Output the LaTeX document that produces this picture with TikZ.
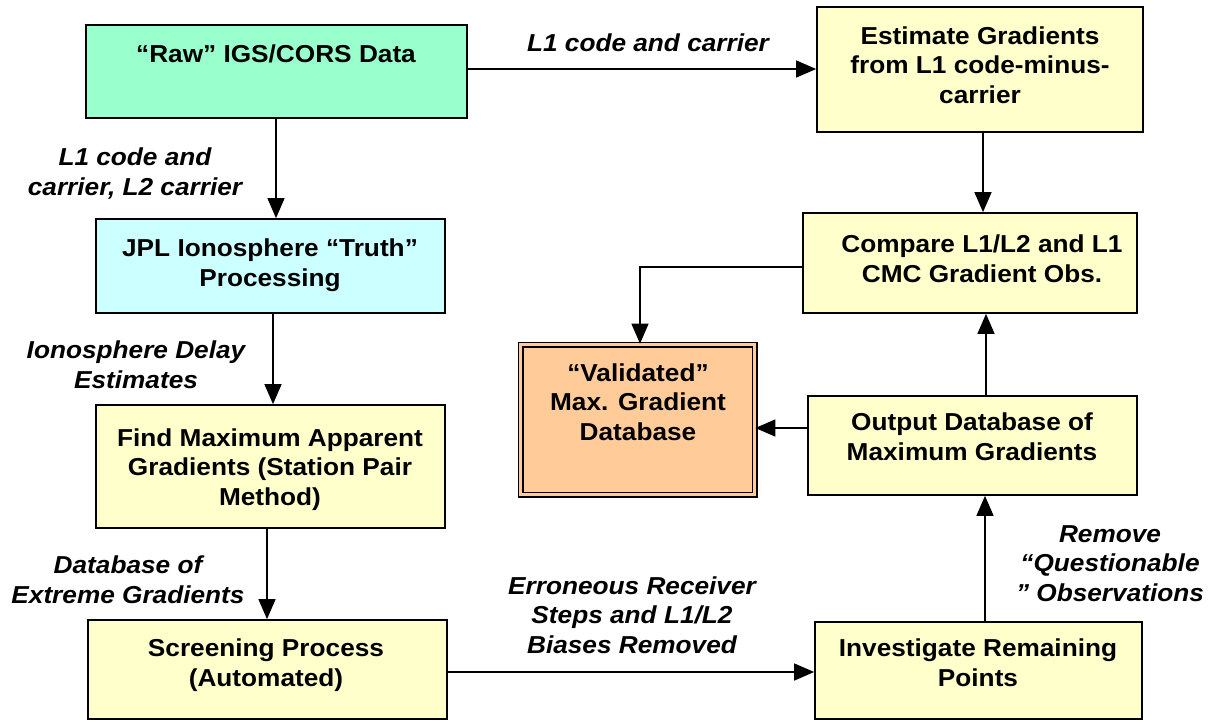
\documentclass[tikz,border=0pt]{standalone}
\usepackage{fontspec}
\setmainfont{Liberation Sans}[FakeStretch=1.07]
\usetikzlibrary{arrows.meta,positioning}
\definecolor{rawgreen}{HTML}{99FFCC}
\definecolor{jplcyan}{HTML}{CCFFFF}
\definecolor{paleyellow}{HTML}{FFFFCC}
\definecolor{valorange}{HTML}{FFCC99}
\tikzset{
  boxnode/.style={draw=black, line width=1.7pt, inner sep=0pt, rectangle},
  boxtext/.style={font=\fontsize{24.5}{29.5}\selectfont\bfseries, align=center, anchor=base, inner sep=0pt},
  lbltext/.style={font=\fontsize{24.5}{29.5}\selectfont\bfseries\itshape, align=center, anchor=base, inner sep=0pt},
  flow/.style={line width=1.4pt, -{Triangle[length=20pt,width=17pt]}},
}
\newcommand{\mybox}[6]{% name, x1, y1, x2, y2, fill
  \node[boxnode, fill=#6, minimum width={(#4-#2)*1pt}, minimum height={(#5-#3)*1pt}] (#1) at ({(#2+#4)/2},{(#3+#5)/2}) {};}
\begin{document}
\begin{tikzpicture}[x=1pt,y=-1pt]
\useasboundingbox[fill=white] (0,0) rectangle (1208,721);

% boxes
\mybox{raw}{86}{25}{467}{118}{rawgreen}
\mybox{est}{817}{7}{1143}{132}{paleyellow}
\mybox{jpl}{96}{219}{445}{313}{jplcyan}
\mybox{find}{96}{405}{445}{528}{paleyellow}
\mybox{scr}{88}{620}{447}{719}{paleyellow}
\mybox{cmp}{803}{213}{1137}{313}{paleyellow}
\mybox{out}{808}{396}{1137}{495}{paleyellow}
\mybox{inv}{815}{622}{1142}{719}{paleyellow}
\node[draw=black, line width=1.7pt, double=valorange, double distance=2.6pt, fill=valorange, inner sep=0pt,
  minimum width=234pt, minimum height=150pt] (val) at (637.5,419.5) {};

% box texts (anchor = baseline of last line)
\node[boxtext] (trawt) at (276,62) {“Raw” IGS/CORS Data};
\node[boxtext] (testt) at (980,103) {Estimate Gradients\\from L1 code-minus-\\carrier};
\node[boxtext] (tjplt) at (270,286) {JPL Ionosphere “Truth”\\Processing};
\node[boxtext] (tfindt) at (270,505) {Find Maximum Apparent\\Gradients (Station Pair\\Method)};
\node[boxtext] (tscrt) at (266,686) {Screening Process\\(Automated)};
\node[boxtext] (tcmpt) at (982,282) {Compare L1/L2 and L1\\CMC Gradient Obs.};
\node[boxtext] (tvalt) at (638,440) {“Validated”\\Max. Gradient\\Database};
\node[boxtext] (toutt) at (972,460) {Output Database of\\Maximum Gradients};
\node[boxtext] (tinvt) at (978,686) {Investigate Remaining\\Points};

% connectors
\draw[flow] (raw.east |- 0,69) -- (est.west |- 0,69);
\draw[flow] (raw.south -| 276,0) -- (jpl.north -| 276,0);
\draw[flow] (jpl.south -| 273,0) -- (find.north -| 273,0);
\draw[flow] (find.south -| 267,0) -- (scr.north -| 267,0);
\draw[flow] (scr.east |- 0,672) -- (inv.west |- 0,672);
\draw[flow] (inv.north -| 985,0) -- (out.south -| 985,0);
\draw[flow] (out.north -| 986,0) -- (cmp.south -| 986,0);
\draw[flow] (est.south -| 983,0) -- (cmp.north -| 983,0);
\draw[flow] (out.west |- 0,428) -- (val.east |- 0,428);
\draw[flow] (cmp.west |- 0,267) -| (val.north -| 640,0);

% connector labels
\node[lbltext] (l1) at (648,51) {L1 code and carrier};
\node[lbltext] (l2) at (135,195) {L1 code and\\carrier, L2 carrier};
\node[lbltext] (l3) at (136,388) {Ionosphere Delay\\Estimates};
\node[lbltext] (l4) at (128,603) {Database of\\Extreme Gradients};
\node[lbltext] (l5) at (632,653) {Erroneous Receiver\\Steps and L1/L2\\Biases Removed};
\node[lbltext] (l6) at (1110,601) {Remove\\“Questionable\\” Observations};
\end{tikzpicture}
\end{document}
